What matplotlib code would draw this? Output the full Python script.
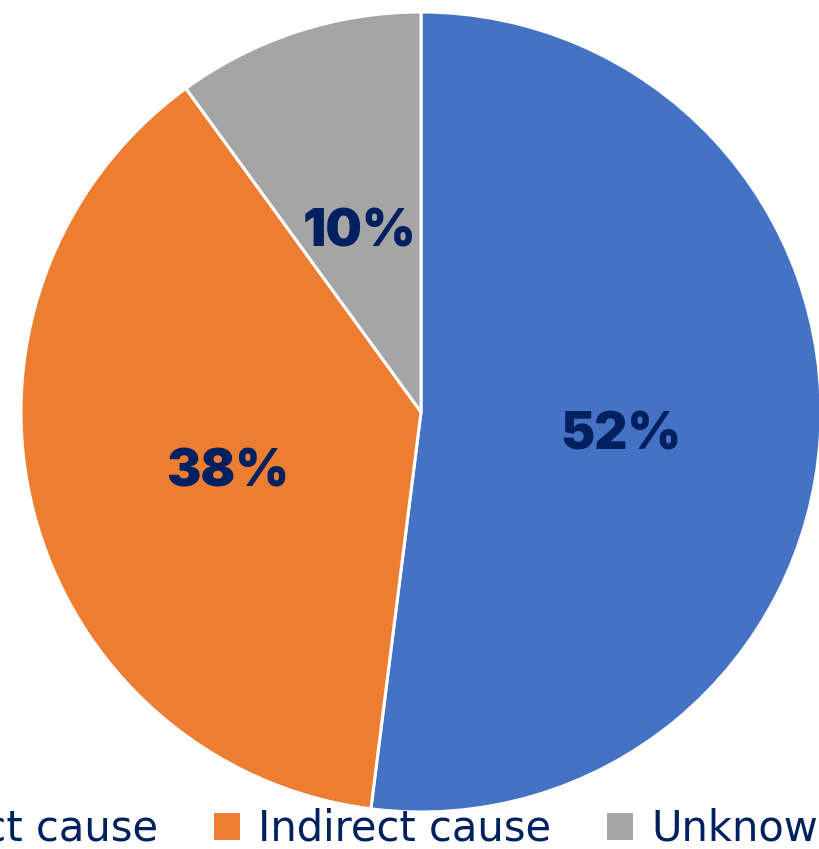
import matplotlib.pyplot as plt

# Данные
labels = ['Direct cause', 'Indirect cause', 'Unknown']
values = [52, 38, 10]
colors = ['#4472C4', '#ED7D31', '#A5A5A5']
text_color = '#002060'

fig = plt.figure(figsize=(8.19, 8.49), dpi=100)
ax = fig.add_axes([0, 0, 1, 1])

wedges, texts, autotexts = ax.pie(
    values, colors=colors, startangle=90, counterclock=False,
    center=(421, 437), radius=400, frame=True,
    autopct='%d%%', pctdistance=0.5,
    wedgeprops=dict(edgecolor='white', linewidth=2.2),
    textprops=dict(color=text_color, fontsize=37, fontweight=900,
                   family=['Inter', 'DejaVu Sans']))
# чуть ниже, как в оригинале
for t in autotexts:
    x, y = t.get_position()
    t.set_position((x, y - 11))

ax.set_xlim(0, 819)
ax.set_ylim(0, 849)
ax.set_aspect('equal')
ax.axis('off')

leg = ax.legend(wedges, labels, loc='center', bbox_to_anchor=(0.425, 0.024),
                ncol=3, frameon=False, handlelength=0.7, handleheight=0.7,
                handletextpad=0.4, columnspacing=1.3,
                prop=dict(family=['DejaVu Sans'], size=30))
for t in leg.get_texts():
    t.set_color(text_color)

plt.savefig('out.png', dpi=100)
